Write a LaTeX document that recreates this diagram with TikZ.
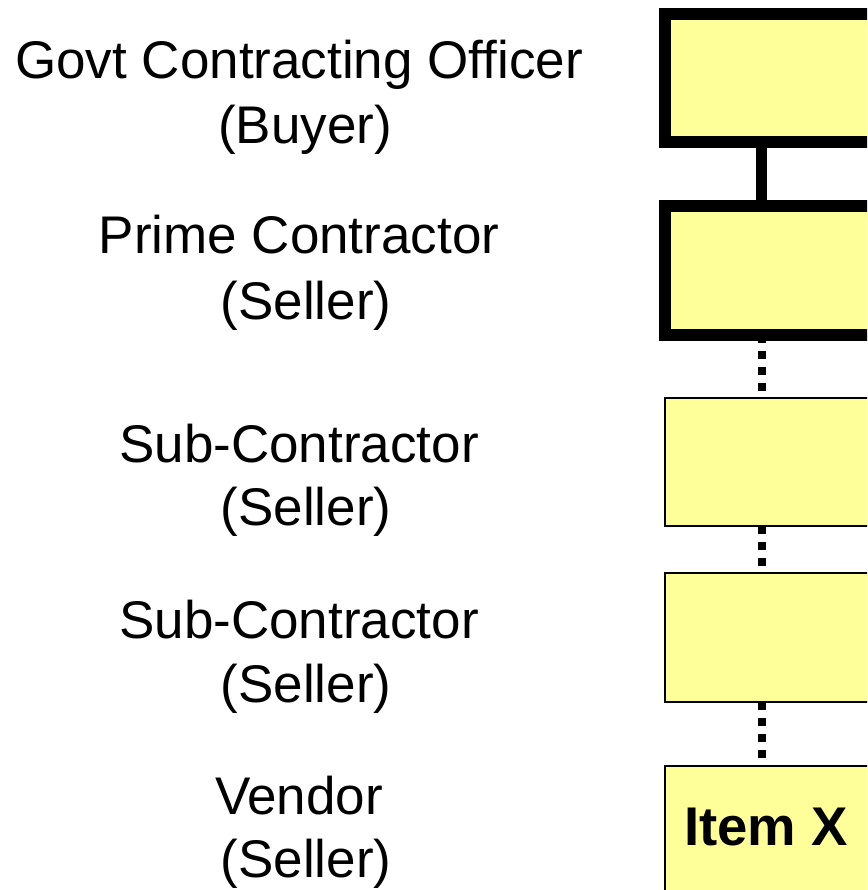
\documentclass[tikz,border=0pt]{standalone}
\usepackage{fontspec}
\setmainfont{Liberation Sans}
\usetikzlibrary{backgrounds}
\definecolor{boxyellow}{HTML}{FFFF99}
\begin{document}
\begin{tikzpicture}[x=1pt,y=-1pt,
  lbl/.style={font=\fontsize{53}{64}\selectfont, anchor=base, inner sep=0pt},
  heavybox/.style={draw=black, fill=boxyellow, line width=12pt, rectangle, anchor=north west, minimum width=260pt, minimum height=128.5pt, outer sep=0pt, inner sep=0pt},
  thinbox/.style={draw=black, fill=boxyellow, line width=2pt, rectangle, anchor=north west, minimum width=260pt, minimum height=128pt, outer sep=0pt, inner sep=0pt},
  solidlink/.style={draw=black, line width=11pt},
  dotlink/.style={draw=black, line width=8pt, dash pattern=on 8pt off 8pt}]
\useasboundingbox (0,0) rectangle (867,890);
\clip (0,0) rectangle (867,890);
% boxes
\node[heavybox] (b1) at (665,14) {};
\node[heavybox] (b2) at (665,206) {};
\node[thinbox] (b3) at (665,398) {};
\node[thinbox, minimum height=129pt] (b4) at (665,573) {};
\node[thinbox, minimum height=200pt] (b5) at (665,766) {};
\node[font=\fontsize{54.5}{64}\selectfont\bfseries, anchor=base west, inner sep=0pt] (itemx) at (684,845) {Item X};
% connectors
\coordinate (c1) at (761.5,0);
\begin{scope}[on background layer]
\draw[solidlink] (b1.south -| c1) -- (b2.north -| c1);
\draw[dotlink] (b2.south -| c1) -- (b3.north -| c1);
\draw[dotlink] (b3.south -| c1) -- (b4.north -| c1);
\draw[dotlink] (b4.south -| c1) -- (b5.north -| c1);
\end{scope}
% labels
\node[lbl] (l1a) at (299,79) {Govt Contracting Officer};
\node[lbl] (l1b) at (305,144) {(Buyer)};
\node[lbl] (l2a) at (299,254) {Prime Contractor};
\node[lbl] (l2b) at (306,319) {(Seller)};
\node[lbl] (l3a) at (299,462) {Sub-Contractor};
\node[lbl] (l3b) at (306,525) {(Seller)};
\node[lbl] (l4a) at (299,638) {Sub-Contractor};
\node[lbl] (l4b) at (306,702) {(Seller)};
\node[lbl] (l5a) at (299,814) {Vendor};
\node[lbl] (l5b) at (306,877) {(Seller)};
\end{tikzpicture}
\end{document}
